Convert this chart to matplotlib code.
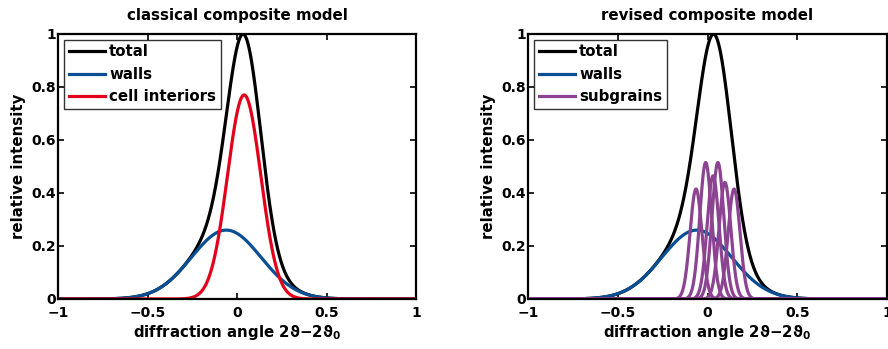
import numpy as np
import matplotlib
matplotlib.use("Agg")
import matplotlib.pyplot as plt

plt.rcParams['font.family'] = ['DejaVu Sans']
plt.rcParams['font.weight'] = 'bold'
plt.rcParams['mathtext.fontset'] = 'custom'
plt.rcParams['mathtext.rm'] = 'DejaVu Sans:bold'
plt.rcParams['mathtext.bf'] = 'DejaVu Sans:bold'
plt.rcParams['mathtext.default'] = 'bf'

# Gaussian component parameters
walls_center, walls_height, walls_sigma = -0.06, 0.26, 0.194
interior_center, interior_height, interior_sigma = 0.04, 0.77, 0.093
subgrain_centers = [-0.064, -0.010, 0.031, 0.058, 0.097, 0.148]
subgrain_heights = [0.415, 0.515, 0.465, 0.515, 0.44, 0.415]
subgrain_sigma = 0.033

titles = ["classical composite model", "revised composite model"]
legend_labels_left = ["total", "walls", "cell interiors"]
legend_labels_right = ["total", "walls", "subgrains"]
xticks = [-1, -0.5, 0, 0.5, 1]
xticklabels = ["\u22121", "\u22120.5", "0", "0.5", "1"]
yticks = [0, 0.2, 0.4, 0.6, 0.8, 1]
yticklabels = ["0", "0.2", "0.4", "0.6", "0.8", "1"]

c_total = "#000000"
c_walls = "#0a4f94"
c_int = "#e3001b"
c_sub = "#8c4391"

x = np.linspace(-1, 1, 1201)
def gauss(c, h, s):
    return h * np.exp(-(x - c) ** 2 / (2 * s ** 2))

walls = gauss(walls_center, walls_height, walls_sigma)
interior = gauss(interior_center, interior_height, interior_sigma)
total = walls + interior

fig = plt.figure(figsize=(8.88, 3.49), dpi=100)
ax1 = fig.add_axes([58/888, 1-299/349, (416-58)/888, (299-34)/349])
ax2 = fig.add_axes([528/888, 1-299/349, (887-528)/888, (299-34)/349])

lw = 2.3
ax1.plot(x, total, color=c_total, lw=lw, label=legend_labels_left[0])
ax1.plot(x, walls, color=c_walls, lw=lw, label=legend_labels_left[1])
ax1.plot(x, interior, color=c_int, lw=lw, label=legend_labels_left[2])

ax2.plot(x, total, color=c_total, lw=lw, label=legend_labels_right[0])
ax2.plot(x, walls, color=c_walls, lw=lw, label=legend_labels_right[1])
for i, (c, h) in enumerate(zip(subgrain_centers, subgrain_heights)):
    ax2.plot(x, gauss(c, h, subgrain_sigma), color=c_sub, lw=lw,
             label=legend_labels_right[2] if i == 0 else None)

fs = 10
fl = 10.8
for ax, t in zip([ax1, ax2], titles):
    ax.set_xlim(-1, 1)
    ax.set_ylim(0, 1)
    ax.set_xticks(xticks)
    ax.set_xticklabels(xticklabels)
    ax.set_yticks(yticks)
    ax.set_yticklabels(yticklabels)
    ax.tick_params(direction='in', top=True, right=True, length=4, width=1.2,
                   labelsize=fs, pad=1.5)
    ax.tick_params(axis='x', pad=5)
    for sp in ax.spines.values():
        sp.set_linewidth(1.6)
    ax.set_title(t, fontsize=fl, fontweight='bold', pad=10)
    ax.set_xlabel("diffraction angle 2\u03d1\u22122\u03d1$_{0}$", fontsize=fl,
                  fontweight='bold', labelpad=2)
    ax.set_ylabel("relative intensity", fontsize=fl, fontweight='bold', labelpad=4)
    leg = ax.legend(loc='upper left', fontsize=fl, frameon=True, fancybox=False,
                    edgecolor='black', handlelength=2.4, handletextpad=0.3,
                    borderpad=0.3, labelspacing=0.5, borderaxespad=0.4)
    leg.get_frame().set_linewidth(1.0)
    for t_ in leg.get_texts():
        t_.set_fontweight('bold')

fig.savefig("out.png", dpi=100)
